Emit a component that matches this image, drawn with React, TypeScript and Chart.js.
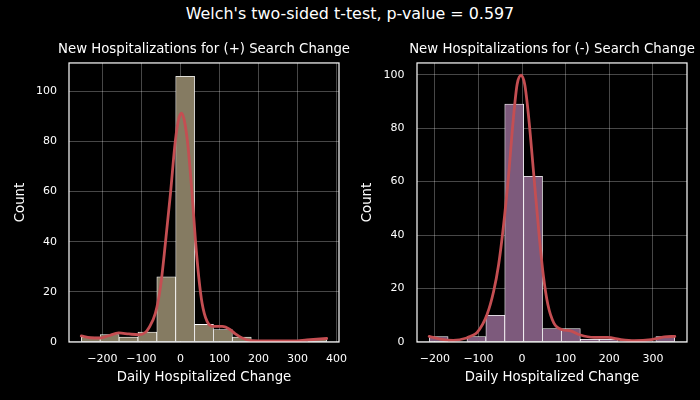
import { useEffect, useRef } from "react";
import { Chart, registerables } from "chart.js";

Chart.register(...registerables);

const FONT = "'DejaVu Sans', sans-serif";
const TEXT = "#ffffff";
const GRID = "rgba(255, 255, 255, 0.28)";
const KDE_RED = "#c44e52";

// (+) search change: histogram bins and kde
const posBinCenters = [-229.8, -181.4, -133.0, -84.6, -36.2, 12.2, 60.6, 109.0, 157.4, 205.8, 254.2, 302.6, 351.0];
const posCounts = [2, 3, 2, 4, 26, 106, 7, 5, 2, 0, 0, 0, 1];
const posKdeX = [-254, -231, -205, -184, -158, -132, -107, -90, -81, -64, -51, -38.5, -25.6, -12.8, -4.3, 2.6, 10, 18.8, 30, 38.5, 47, 55.6, 68.4, 85.5, 107, 128, 140, 158, 184, 222, 290, 324, 375];
const posKdeY = [2.4, 1.7, 1.6, 2.5, 3.6, 3.2, 2.9, 3.8, 5.6, 11.5, 22, 39.3, 59, 80.4, 89, 91.3, 88.4, 79, 59, 40.7, 26, 15.5, 8.2, 6.2, 6.2, 4.9, 3.3, 1.6, 0.5, 0.4, 0.4, 0.8, 1.4];
const posXTicks = [-200, -100, 0, 100, 200, 300, 400];

// (-) search change
const negBinCenters = [-191.35, -148.05, -104.75, -61.45, -18.15, 25.15, 68.45, 111.75, 155.05, 198.35, 241.65, 284.95, 328.25];
const negCounts = [2, 0, 2, 10, 89, 62, 5, 5, 1, 1, 0, 0, 2];
const negKdeX = [-213, -188, -158, -127, -119, -103, -80.6, -65.4, -53.9, -42.4, -30.9, -20.7, -11.5, -2.3, 6, 15.2, 26.7, 38.2, 48.4, 59, 72.8, 92, 111, 132, 165, 196, 226.5, 257, 296, 326, 350];
const negKdeY = [2.1, 1.1, 0.6, 1.5, 2.1, 3.6, 10.2, 18.9, 28.9, 43.9, 62.6, 82.5, 96.3, 99.8, 96.3, 83.8, 62.6, 41.4, 25.2, 14, 7.1, 4.6, 4.2, 2.7, 1.7, 1.7, 0.9, 0.5, 0.9, 1.9, 2.1];
const negXTicks = [-200, -100, 0, 100, 200, 300];

const yTicks = [0, 20, 40, 60, 80, 100];

const fmt = (v: number) => (v < 0 ? "\u2212" + Math.abs(v) : String(v));

// matplotlib-style spines on all four sides
const frame = {
  id: "frame",
  afterDatasetsDraw(chart: Chart) {
    const { ctx, chartArea: a } = chart;
    ctx.save();
    ctx.strokeStyle = "#ffffff";
    ctx.lineWidth = 1.2;
    ctx.strokeRect(a.left, a.top, a.right - a.left, a.bottom - a.top);
    ctx.restore();
  },
};

type PanelProps = {
  title: string;
  centers: number[];
  counts: number[];
  kdeX: number[];
  kdeY: number[];
  xTicks: number[];
  xMin: number;
  xMax: number;
  yMax: number;
  barColor: string;
  yWidth: number;
  yTitlePad: number;
  yTickPad: number;
  padRight: number;
  left: number;
  width: number;
};

function Panel(p: PanelProps) {
  const canvasRef = useRef<HTMLCanvasElement | null>(null);

  useEffect(() => {
    const canvas = canvasRef.current;
    if (!canvas) return;

    const chart = new Chart(canvas, {
      type: "bar",
      data: {
        datasets: [
          {
            type: "line",
            data: p.kdeX.map((x, i) => ({ x, y: p.kdeY[i] })),
            borderColor: KDE_RED,
            borderWidth: 2.8,
            borderCapStyle: "round",
            pointRadius: 0,
            cubicInterpolationMode: "monotone",
            order: 0,
          } as any,
          {
            type: "bar",
            data: p.centers.map((x, i) => ({ x, y: p.counts[i] })),
            backgroundColor: p.barColor,
            borderColor: "#ffffff",
            borderWidth: 0.8,
            borderSkipped: false,
            barPercentage: 1,
            categoryPercentage: 1,
            order: 1,
          },
        ],
      },
      options: {
        animation: false,
        responsive: true,
        maintainAspectRatio: false,
        layout: { padding: 0 },
        plugins: {
          legend: { display: false },
          tooltip: { enabled: false },
          title: {
            display: true,
            text: p.title,
            color: TEXT,
            font: { family: FONT, size: 13.3, weight: "normal" },
            padding: { top: 42, bottom: 5 },
          },
        },
        scales: {
          x: {
            type: "linear",
            min: p.xMin,
            max: p.xMax,
            offset: false,
            afterBuildTicks: (s: any) => {
              s.ticks = p.xTicks.map((v) => ({ value: v }));
            },
            afterFit: (s: any) => {
              s.height = 58;
            },
            grid: { color: GRID, lineWidth: 1, drawTicks: false, offset: false },
            border: { display: false },
            ticks: {
              color: TEXT,
              font: { family: FONT, size: 11 },
              padding: 10.4,
              maxRotation: 0,
              autoSkip: false,
              includeBounds: false,
              callback: (v: any) => fmt(Number(v)),
            },
            title: {
              display: true,
              text: "Daily Hospitalized Change",
              color: TEXT,
              font: { family: FONT, size: 13.3 },
              padding: { top: 0, bottom: 14 },
            },
          },
          y: {
            min: 0,
            max: p.yMax,
            afterBuildTicks: (s: any) => {
              s.ticks = yTicks.map((v) => ({ value: v }));
            },
            afterFit: (s: any) => {
              s.width = p.yWidth;
            },
            grid: { color: GRID, lineWidth: 1, drawTicks: false },
            border: { display: false },
            ticks: {
              color: TEXT,
              font: { family: FONT, size: 11 },
              padding: p.yTickPad,
              includeBounds: false,
              callback: (v: any) => fmt(Number(v)),
            },
            title: {
              display: true,
              text: "Count",
              color: TEXT,
              font: { family: FONT, size: 13.3 },
              padding: { top: p.yTitlePad, bottom: 0 },
            },
          },
          // empty right-hand box so the title centres over the plot area
          pad: {
            type: "linear",
            position: "right",
            display: true,
            afterFit: (s: any) => {
              s.width = p.padRight;
            },
            grid: { display: false },
            border: { display: false },
            ticks: { display: false },
          },
        },
      },
      plugins: [frame],
    });

    return () => {
      chart.destroy();
    };
  }, []);

  return (
    <div style={{ position: "absolute", left: p.left, top: 0, width: p.width, height: 400 }}>
      <canvas ref={canvasRef} />
    </div>
  );
}

export default function App() {
  return (
    <div
      style={{
        position: "fixed",
        left: 0,
        top: 0,
        width: 700,
        height: 400,
        background: "#000000",
        overflow: "hidden",
      }}
    >
      <div
        style={{
          position: "absolute",
          left: 0,
          top: 0,
          width: 700,
          height: 28,
          lineHeight: "28px",
          textAlign: "center",
          color: TEXT,
          fontFamily: FONT,
          fontSize: 15.9,
        }}
      >
        Welch's two-sided t-test, p-value = 0.597
      </div>
      <Panel
        title="New Hospitalizations for (+) Search Change"
        centers={posBinCenters}
        counts={posCounts}
        kdeX={posKdeX}
        kdeY={posKdeY}
        xTicks={posXTicks}
        xMin={-285.5}
        xMax={406.5}
        yMax={111.3}
        barColor="#857b62"
        yWidth={69}
        yTitlePad={12.3}
        yTickPad={12}
        padRight={69}
        left={0}
        width={408}
      />
      <Panel
        title="New Hospitalizations for (-) Search Change"
        centers={negBinCenters}
        counts={negCounts}
        kdeX={negKdeX}
        kdeY={negKdeY}
        xTicks={negXTicks}
        xMin={-241}
        xMax={378}
        yMax={104.4}
        barColor="#7d5a7c"
        yWidth={67}
        yTitlePad={9.7}
        yTickPad={12.5}
        padRight={67}
        left={350}
        width={404}
      />
    </div>
  );
}
